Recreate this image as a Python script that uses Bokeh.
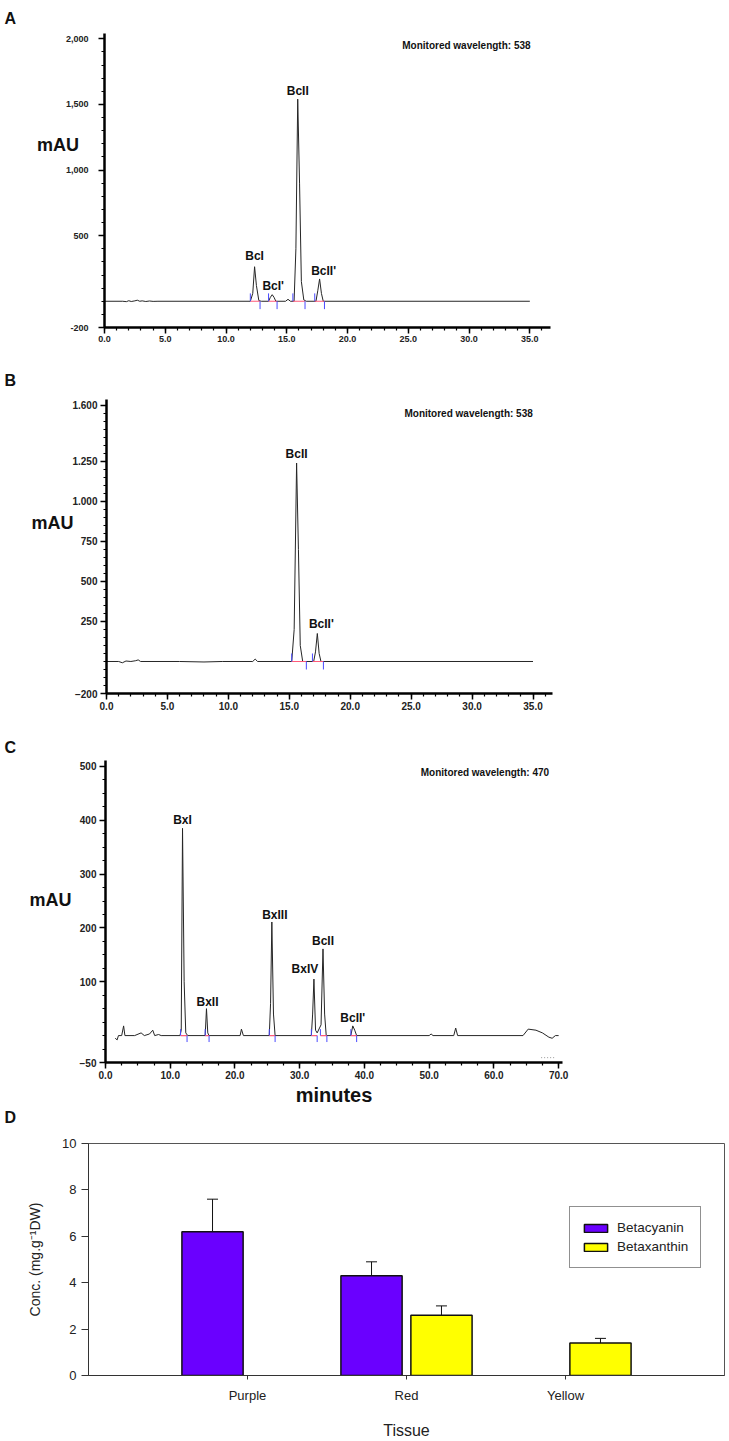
from bokeh.plotting import figure
from bokeh.models import (Range1d, FixedTicker, NumeralTickFormatter, Label, Title,
                          Legend, LegendItem, Whisker, ColumnDataSource, TeeHead)
from bokeh.embed import file_html
from bokeh.resources import INLINE

FONT = "Liberation Sans"

# ---------------- data ----------------
# Panel A chromatogram (538 nm)
a_time = [0.0, 1.5, 1.8, 2.0, 2.2, 2.5, 2.7, 2.9, 3.1, 3.4, 3.7, 4.0, 4.4, 12.0, 12.2, 12.35,
          12.5, 12.7, 12.9, 13.5, 13.65, 13.8, 13.95, 14.1, 14.9, 15.1, 15.3, 15.6, 15.75, 15.9,
          16.05, 16.2, 16.4, 16.6, 17.4, 17.55, 17.7, 17.85, 18.0, 35.0]
a_mau = [0, 0, -3, 4, -2, 3, 8, 0, 3, -2, 2, -1, 0, 0, 60, 263,
         120, 5, 0, 0, 30, 50, 30, 0, 0, 15, 0, 0, 400, 1540,
         900, 150, 10, 0, 0, 80, 170, 60, 0, 0]
a_peaks = ["BcI", "BcI'", "BcII", "BcII'"]
a_peak_time = [12.35, 13.8, 15.9, 17.7]
a_peak_mau = [263, 50, 1540, 170]
a_int_start = [12.0, 13.5, 15.5, 17.3]
a_int_end = [12.8, 14.2, 16.5, 18.1]

# Panel B chromatogram (538 nm)
b_time = [0.0, 1.0, 1.3, 1.6, 2.0, 2.4, 2.6, 2.8, 6.0, 8.0, 9.5, 12.0, 12.2, 12.4, 15.2,
          15.4, 15.6, 15.75, 15.9, 16.1, 17.0, 17.15, 17.3, 17.45, 17.6, 35.0]
b_mau = [0, 0, -8, 3, 0, 5, 10, 0, 0, -3, 0, 0, 15, 0, 0,
         200, 1240, 700, 100, 0, 0, 60, 175, 50, 0, 0]
b_peaks = ["BcII", "BcII'"]
b_peak_time = [15.6, 17.3]
b_peak_mau = [1240, 175]
b_int_start = [15.2, 16.9]
b_int_end = [16.4, 17.8]

# Panel C chromatogram (470 nm)
c_time = [1.5, 1.8, 2.0, 2.5, 2.8, 3.0, 4.5, 5.5, 6.0, 6.8, 7.3, 7.6, 8.2, 8.6, 11.5, 11.7,
          11.9, 12.15, 12.4, 12.7, 15.4, 15.6, 15.8, 16.0, 20.8, 21.0, 21.3, 25.3, 25.5, 25.7,
          25.95, 26.2, 31.8, 32.0, 32.2, 32.45, 32.7, 33.3, 33.6, 33.85, 34.1, 37.9, 38.2,
          38.5, 38.8, 50.0, 50.3, 50.6, 53.8, 54.1, 54.4, 64.5, 65.3, 66.5, 67.5, 68.5, 69.0,
          69.5, 70.0]
c_mau = [-5, -8, 0, 0, 18, 0, 0, 5, 0, 3, 10, 0, 2, 0, 0, 10,
         385, 100, 5, 0, 0, 50, 5, 0, 0, 12, 0, 0, 60, 211,
         40, 0, 0, 40, 105, 10, 5, 20, 161, 40, 0, 0, 18,
         10, 0, 0, 3, 0, 0, 14, 0, 0, 12, 10, 5, -3, -5,
         0, 0]
c_peaks = ["BxI", "BxII", "BxIII", "BxIV", "BcII", "BcII'"]
c_peak_time = [11.9, 15.6, 25.7, 32.2, 33.6, 38.2]
c_peak_mau = [385, 50, 211, 105, 161, 18]
c_int_start = [11.6, 15.4, 25.3, 31.8, 33.2, 37.9]
c_int_end = [12.6, 16.0, 26.2, 32.7, 34.2, 38.8]
c_dots_time = [67.3, 69.5]
c_dots_mau = [-41, -41]

# Panel D bar chart
tissues = ["Purple", "Red", "Yellow"]
betacyanin = [6.2, 4.3, 0.0]
betacyanin_err = [1.4, 0.6, 0.0]
betaxanthin = [0.0, 2.6, 1.4]
betaxanthin_err = [0.0, 0.4, 0.2]


# ---------------- helpers ----------------
def add_label(p, x, y, text, size, bold=True, align="center", baseline="middle",
              color="#111111", dx=0, dy=0):
    p.add_layout(Label(x=x, y=y, text=text, text_font=FONT, text_font_size=size,
                       text_font_style="bold" if bold else "normal",
                       text_align=align, text_baseline=baseline, text_color=color,
                       x_offset=dx, y_offset=dy))


def panel_letter(p, letter, offset, standoff, side="above", valign="bottom"):
    p.add_layout(Title(text=letter, align="left", offset=offset, standoff=standoff,
                       vertical_align=valign, text_font=FONT, text_font_size="16px",
                       text_font_style="bold", text_color="#111111"), side)


def chrom_fig(height, bl, br, bt, bb, xr, yr):
    p = figure(width=729, height=height, x_range=Range1d(*xr), y_range=Range1d(*yr),
               output_backend="svg", toolbar_location=None, title=None,
               min_border_left=bl, min_border_right=br, min_border_top=bt,
               min_border_bottom=bb)
    p.outline_line_color = None
    p.xgrid.grid_line_color = None
    p.ygrid.grid_line_color = None
    return p


def style_chrom(p, xmaj, xmin, ymaj, ymin, tick_font, y_standoff, ylab, ylab_standoff):
    for ax in (p.xaxis[0], p.yaxis[0]):
        ax.axis_line_width = 2.5
        ax.axis_line_color = "black"
        ax.major_tick_line_width = 1.5
        ax.minor_tick_line_width = 1.2
        ax.major_tick_line_color = "black"
        ax.minor_tick_line_color = "black"
        ax.major_tick_in = 0
        ax.major_tick_out = 6
        ax.minor_tick_in = 0
        ax.minor_tick_out = 3
        ax.major_label_text_font = FONT
        ax.major_label_text_font_style = "bold"
        ax.major_label_text_font_size = tick_font
        ax.major_label_text_color = "#222222"
        ax.axis_label_text_font = FONT
        ax.axis_label_text_font_style = "bold"
        ax.axis_label_text_color = "#111111"
    p.xaxis.ticker = FixedTicker(ticks=xmaj, minor_ticks=xmin)
    p.xaxis.formatter = NumeralTickFormatter(format="0.0")
    p.xaxis.major_label_standoff = 2
    p.yaxis.ticker = FixedTicker(ticks=ymaj, minor_ticks=ymin)
    p.yaxis.major_label_standoff = y_standoff
    p.yaxis.axis_label = ylab
    p.yaxis.axis_label_orientation = "horizontal"
    p.yaxis.axis_label_text_font_size = "18px"
    p.yaxis.axis_label_standoff = ylab_standoff


def draw_trace(p, t, y, starts, ends, mark_len):
    p.line(t, y, line_color="#262626", line_width=1)
    p.segment(x0=starts, y0=[0] * len(starts), x1=ends, y1=[0] * len(ends),
              line_color="#ff5a78", line_width=1.2)
    p.segment(x0=starts, y0=[0] * len(starts), x1=starts, y1=[mark_len] * len(starts),
              line_color="#4a4aff", line_width=1)
    p.segment(x0=ends, y0=[0] * len(ends), x1=ends, y1=[-mark_len] * len(ends),
              line_color="#4a4aff", line_width=1)


def peak_labels(p, names, ts, ys, offsets):
    for n, t, y, (dx, dy) in zip(names, ts, ys, offsets):
        add_label(p, t, y, n, "12px", dx=dx, dy=dy)


# ---------------- Panel A ----------------
pA = chrom_fig(348, 104, 179, 33, 21, (0, 36.7), (-200, 2040))
style_chrom(pA, [0, 5, 10, 15, 20, 25, 30, 35], list(range(0, 37)),
            [-200, 500, 1000, 1500, 2000], list(range(-200, 2001, 100)), "9px", 10,
            "mAU\n \n \n ", -16)
pA.yaxis.formatter = NumeralTickFormatter(format="0,0")
draw_trace(pA, a_time, a_mau, a_int_start, a_int_end, 60)
peak_labels(pA, a_peaks, a_peak_time, a_peak_mau, [(0, 11), (1, 9), (0, 8), (4, 8)])
add_label(pA, 24.5, 1950, "Monitored wavelength: 538", "10px", align="left")
panel_letter(pA, "A", -100, 14)

# ---------------- Panel B ----------------
pB = chrom_fig(364, 106, 177, 51, 19, (0, 36.6), (-200, 1637))
style_chrom(pB, [0, 5, 10, 15, 20, 25, 30, 35], list(range(0, 37)),
            [-200, 250, 500, 750, 1000, 1250, 1600], list(range(-200, 1601, 50)), "10px", 3,
            "mAU\n \n ", -4)
pB.yaxis.major_label_overrides = {1000: "1.000", 1250: "1.250", 1600: "1.600"}
draw_trace(pB, b_time, b_mau, b_int_start, b_int_end, 50)
peak_labels(pB, b_peaks, b_peak_time, b_peak_mau, [(0, 9), (4, 9)])
add_label(pB, 24.45, 1550, "Monitored wavelength: 538", "10px", align="left")
panel_letter(pB, "B", -102, 22)

# ---------------- Panel C ----------------
pC = chrom_fig(415, 105, 167, 48, 64, (0, 70.6), (-50, 511))
style_chrom(pC, [0, 10, 20, 30, 40, 50, 60, 70], [i * 2.5 for i in range(0, 29)],
            [-50, 100, 200, 300, 400, 500], list(range(-50, 501, 25)), "10px", 3,
            "mAU\n ", 5)
pC.xaxis.axis_label = "minutes"
pC.xaxis.axis_label_text_font_size = "20px"
pC.xaxis.axis_label_standoff = 2
draw_trace(pC, c_time, c_mau, c_int_start, c_int_end, 12)
pC.line(c_dots_time, c_dots_mau, line_color="#999999", line_width=1, line_dash="1 2")
peak_labels(pC, c_peaks, c_peak_time, c_peak_mau,
            [(0, 8), (1, 7), (3, 7), (-9, 10), (0, 8), (0, 8)])
add_label(pC, 48.7, 488, "Monitored wavelength: 470", "10px", align="left")
panel_letter(pC, "C", -101, 9)
# the letter of panel D sits in the space just under panel C
panel_letter(pC, "D", -101, 0, side="below", valign="top")

# ---------------- Panel D ----------------
pD = figure(width=729, height=314, x_range=Range1d(0, 4), y_range=Range1d(0, 10),
            output_backend="svg", toolbar_location=None, title=None,
            min_border_left=88, min_border_right=5, min_border_top=16, min_border_bottom=62)
pD.xgrid.grid_line_color = None
pD.ygrid.grid_line_color = None
pD.outline_line_color = "#555555"
pD.outline_line_width = 1

pos = [i + 1 for i in range(len(tissues))]
off, bw = 0.22, 0.385

src_c = ColumnDataSource(dict(
    x=[p - off for p, v in zip(pos, betacyanin) if v > 0],
    top=[v for v in betacyanin if v > 0],
    upper=[v + e for v, e in zip(betacyanin, betacyanin_err) if v > 0]))
src_x = ColumnDataSource(dict(
    x=[p + off for p, v in zip(pos, betaxanthin) if v > 0],
    top=[v for v in betaxanthin if v > 0],
    upper=[v + e for v, e in zip(betaxanthin, betaxanthin_err) if v > 0]))

r1 = pD.vbar(x="x", top="top", bottom=0, width=bw, source=src_c,
             fill_color="#6a00ff", line_color="#111111", line_width=1.5)
r2 = pD.vbar(x="x", top="top", bottom=0, width=bw, source=src_x,
             fill_color="#ffff00", line_color="#111111", line_width=1.5)
for s in (src_c, src_x):
    pD.add_layout(Whisker(base="x", lower="top", upper="upper", source=s,
                          upper_head=TeeHead(size=11, line_color="#111111", line_width=1),
                          lower_head=None, line_color="#111111", line_width=1))

pD.xaxis.ticker = FixedTicker(ticks=pos)
pD.xaxis.major_label_overrides = {p: t for p, t in zip(pos, tissues)}
pD.yaxis.ticker = FixedTicker(ticks=[0, 2, 4, 6, 8, 10])
for ax in (pD.xaxis[0], pD.yaxis[0]):
    ax.axis_line_color = "#333333"
    ax.major_tick_line_color = "#333333"
    ax.major_tick_in = 0
    ax.minor_tick_out = 0
    ax.minor_tick_in = 0
    ax.major_label_text_font = FONT
    ax.major_label_text_font_size = "13px"
    ax.major_label_text_color = "#222222"
    ax.axis_label_text_font = FONT
    ax.axis_label_text_font_style = "normal"
    ax.axis_label_text_color = "#222222"
pD.xaxis.major_tick_out = 4
pD.xaxis.major_label_standoff = 8
pD.xaxis.axis_label = "Tissue"
pD.xaxis.axis_label_text_font_size = "16px"
pD.xaxis.axis_label_standoff = 16
pD.yaxis.major_tick_out = 7
pD.yaxis.major_label_standoff = 5
pD.yaxis.axis_label = "Conc. (mg.g⁻¹DW)"
pD.yaxis.axis_label_text_font_size = "14px"
pD.yaxis.axis_label_standoff = 16

legend = Legend(items=[LegendItem(label="Betacyanin", renderers=[r1]),
                       LegendItem(label="Betaxanthin", renderers=[r2])],
                location=(481, 107), border_line_color="#222222", border_line_width=1,
                background_fill_color="white", background_fill_alpha=1.0,
                label_text_font=FONT, label_text_font_size="13.5px",
                label_text_color="#222222",
                glyph_width=29, glyph_height=10, label_standoff=7, padding=11,
                spacing=0, label_height=19, label_width=72, margin=0)
pD.add_layout(legend)

open("out.html", "w").write(file_html([pA, pB, pC, pD], INLINE))
